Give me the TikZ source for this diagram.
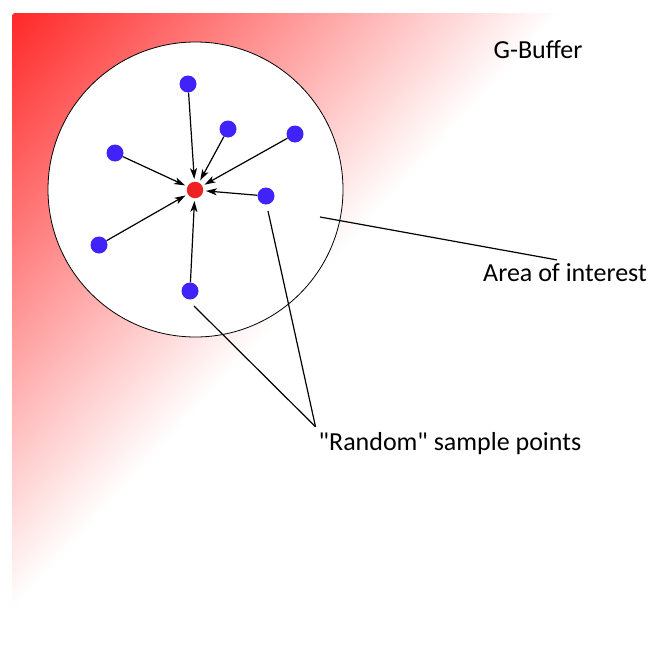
\documentclass[tikz,border=0pt]{standalone}
\usepackage{fontspec}
\setmainfont{Carlito}[Ligatures=TeXOff]
\usetikzlibrary{arrows.meta}
\definecolor{gbred}{RGB}{255,40,40}
\definecolor{ptblue}{RGB}{64,34,250}
\definecolor{ptred}{RGB}{238,34,34}
\tikzset{
  sample/.style={circle, fill=ptblue, inner sep=0pt, minimum size=17pt},
  target/.style={circle, fill=ptred, inner sep=0pt, minimum size=16.5pt},
  ray/.style={-{Stealth[length=11pt,width=7pt,inset=3pt]}, line width=1.2pt, shorten >=2.5pt},
  callout/.style={line width=1.2pt},
  lbl/.style={font=\fontsize{26}{31}\selectfont, anchor=base, inner sep=0pt}
}
\begin{document}
\begin{tikzpicture}[x=1pt,y=-1pt]
  \useasboundingbox (0,0) rectangle (653,653);

  % G-Buffer background, red corner fading to white
  \begin{scope}
    \clip[rounded corners=3pt] (12,13) rectangle (610,611);
    \begin{scope}[transform canvas={rotate around={47.5:(12,13)}}]
      \shade[top color=gbred, middle color=gbred!38!white, bottom color=white] (-888,13) rectangle (912,417);
    \end{scope}
  \end{scope}
  \node[lbl] (gbuf) at (538,58) {G-Buffer};

  % area of interest
  \node[circle, draw, fill=white, line width=0.8pt, inner sep=0pt, minimum size=295pt] (area) at (195.5,189.5) {};

  % centre pixel and the samples round it
  \node[target] (c) at (195,190) {};
  \node[sample] (s1) at (188,84) {};
  \node[sample] (s2) at (228,129) {};
  \node[sample] (s3) at (295,134) {};
  \node[sample] (s4) at (115,153) {};
  \node[sample] (s5) at (266,196) {};
  \node[sample] (s6) at (99,245) {};
  \node[sample] (s7) at (190,291) {};
  \foreach \i in {1,...,7}
    \draw[ray] (s\i) -- (c);

  % labels
  \node[lbl] (aoi) at (565,281) {Area of interest};
  \node[lbl] (rnd) at (450,450) {"Random" sample points};

  % callouts
  \coordinate (aoipin) at (320,217);
  \draw[callout] (aoipin) -- ([xshift=-8pt,yshift=3pt]aoi.north);
  \coordinate (rndtip) at ([xshift=-3pt,yshift=5pt]rnd.north west);
  \draw[callout] (s7) ++(4,15) -- (rndtip);
  \draw[callout] (s5) ++(2,15) -- (rndtip);
\end{tikzpicture}
\end{document}
